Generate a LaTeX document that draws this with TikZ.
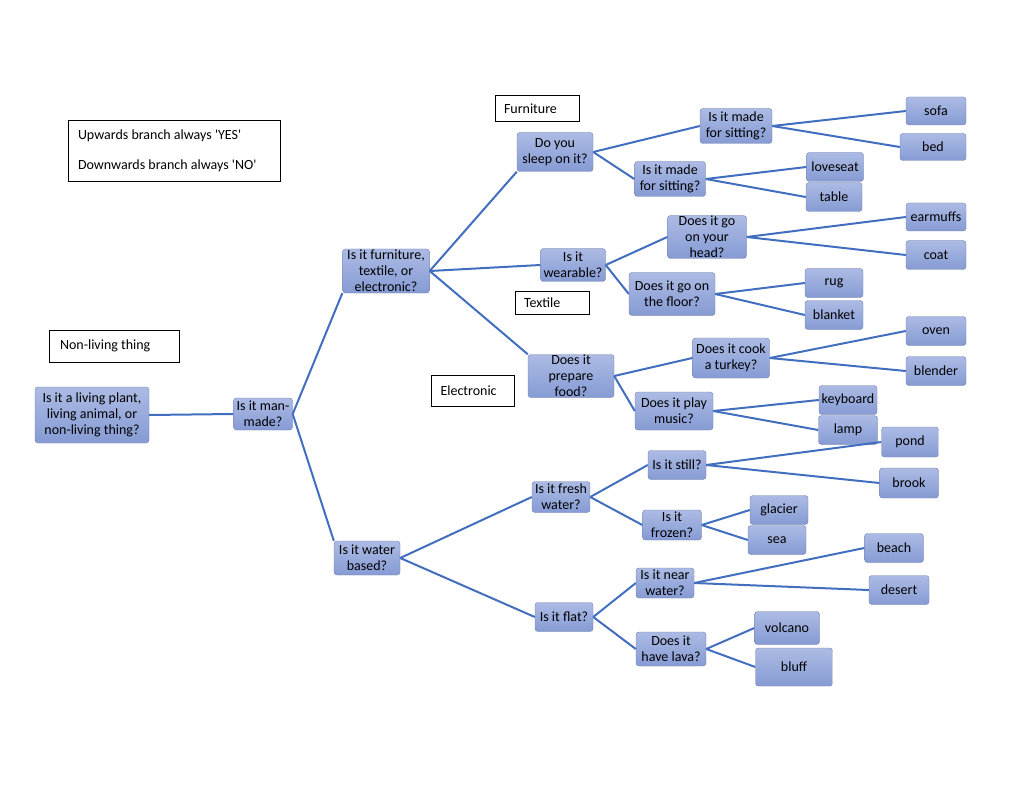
\documentclass[tikz,border=0pt]{standalone}
\usepackage{fontspec}
\setmainfont{Carlito}
\usepackage{xcolor}
\usepackage{tikz}

\definecolor{branch}{RGB}{66,110,192}
\definecolor{boxtop}{RGB}{172,187,228}
\definecolor{boxbot}{RGB}{134,155,212}
\definecolor{boxline}{RGB}{112,126,168}

\tikzset{
    q/.style={draw=boxline, rounded corners=3pt, top color=boxtop, bottom color=boxbot,
        align=center, inner sep=0pt, font=\fontsize{14}{16}\selectfont},
    tag/.style={draw=black, line width=1pt, fill=white, inner sep=0pt, align=flush left,
        font=\fontsize{14}{16}\selectfont},
    link/.style={branch, line width=2pt}
}

\begin{document}
\begin{tikzpicture}[x=1pt, y=-1pt]
        \useasboundingbox (0,0) rectangle (1024,791);

        % labels
        \node[tag, minimum width=212, minimum height=61, text width=192]
            (legend) at (174,151) {Upwards branch always \textquotesingle YES\textquotesingle\\[14pt]Downwards branch always \textquotesingle NO\textquotesingle};
        \node[tag, minimum width=130, minimum height=32, text width=108]
            (nonliving) at (114,346) {Non-living thing};
        \node[tag, minimum width=84, minimum height=26, text width=66]
            (furniture) at (537,109) {Furniture};
        \node[tag, minimum width=74, minimum height=23, text width=56]
            (textile) at (552,303) {Textile};
        \node[tag, minimum width=83, minimum height=31, text width=65]
            (electronic) at (473,391) {Electronic};

        % questions
        \node[q, minimum width=114, minimum height=56] (root) at (92,415)
            {Is it a living plant,\\living animal, or\\non-living thing?};
        \node[q, minimum width=59, minimum height=32] (manmade) at (263,414) {Is it man-\\made?};
        \node[q, minimum width=87, minimum height=44] (kind) at (386,271)
            {Is it furniture,\\textile, or\\electronic?};
        \node[q, minimum width=66, minimum height=34] (water) at (367,558) {Is it water\\based?};

        \node[q, minimum width=76, minimum height=39] (sleep) at (555,152) {Do you\\sleep on it?};
        \node[q, minimum width=65, minimum height=33] (wear) at (573,265) {Is it\\wearable?};
        \node[q, minimum width=86, minimum height=43] (food) at (571,376) {Does it\\prepare\\food?};

        \node[q, minimum width=72, minimum height=35] (sitA) at (736,126) {Is it made\\for sitting?};
        \node[q, minimum width=71, minimum height=35] (sitB) at (670,179) {Is it made\\for sitting?};
        \node[q, minimum width=79, minimum height=43] (head) at (707,237) {Does it go\\on your\\head?};
        \node[q, minimum width=86, minimum height=43] (floor) at (672,294) {Does it go on\\the floor?};
        \node[q, minimum width=77, minimum height=40] (turkey) at (731,358) {Does it cook\\a turkey?};
        \node[q, minimum width=78, minimum height=38] (music) at (674,411) {Does it play\\music?};

        \node[q, minimum width=58, minimum height=31] (fresh) at (561,497) {Is it fresh\\water?};
        \node[q, minimum width=58, minimum height=29] (flat) at (564,617) {Is it flat?};
        \node[q, minimum width=58, minimum height=29] (still) at (677,465) {Is it still?};
        \node[q, minimum width=59, minimum height=30] (frozen) at (672,525) {Is it\\frozen?};
        \node[q, minimum width=58, minimum height=30] (near) at (665,583) {Is it near\\water?};
        \node[q, minimum width=70, minimum height=34] (lava) at (671,649) {Does it\\have lava?};

        % answers
        \node[q, minimum width=60, minimum height=28] (sofa) at (936,111) {sofa};
        \node[q, minimum width=66, minimum height=27] (bed) at (933,147) {bed};
        \node[q, minimum width=57, minimum height=29] (loveseat) at (835,167) {loveseat};
        \node[q, minimum width=56, minimum height=29] (table) at (834,197) {table};
        \node[q, minimum width=60, minimum height=28] (earmuffs) at (936,217) {earmuffs};
        \node[q, minimum width=60, minimum height=29] (coat) at (936,255) {coat};
        \node[q, minimum width=58, minimum height=29] (rug) at (834,283) {rug};
        \node[q, minimum width=58, minimum height=29] (blanket) at (834,315) {blanket};
        \node[q, minimum width=60, minimum height=29] (oven) at (936,331) {oven};
        \node[q, minimum width=60, minimum height=29] (blender) at (936,371) {blender};
        \node[q, minimum width=58, minimum height=29] (keyboard) at (848,400) {keyboard};
        \node[q, minimum width=59, minimum height=29] (lamp) at (848,430) {lamp};
        \node[q, minimum width=57, minimum height=30] (pond) at (910,442) {pond};
        \node[q, minimum width=59, minimum height=30] (brook) at (909,483) {brook};
        \node[q, minimum width=58, minimum height=29] (glacier) at (779,510) {glacier};
        \node[q, minimum width=58, minimum height=29] (sea) at (777,540) {sea};
        \node[q, minimum width=59, minimum height=29] (beach) at (894,548) {beach};
        \node[q, minimum width=60, minimum height=29] (desert) at (899,590) {desert};
        \node[q, minimum width=65, minimum height=33] (volcano) at (787,628) {volcano};
        \node[q, minimum width=77, minimum height=38] (bluff) at (794,667) {bluff};

        % branches
        \draw[link] (root.east) -- (manmade.west);
        \draw[link] (manmade.east) -- (kind.south west);
        \draw[link] (manmade.east) -- (water.north west);
        \draw[link] (kind.east) -- (sleep.south west);
        \draw[link] (kind.east) -- (wear.west);
        \draw[link] (kind.east) -- (food.north west);
        \draw[link] (water.east) -- (fresh.west);
        \draw[link] (water.east) -- (flat.west);

        \draw[link] (sleep.east) -- (sitA.west);
        \draw[link] (sleep.east) -- (sitB.west);
        \draw[link] (wear.east) -- (head.west);
        \draw[link] (wear.east) -- (floor.west);
        \draw[link] (food.east) -- (turkey.west);
        \draw[link] (food.east) -- (music.west);
        \draw[link] (fresh.east) -- (still.west);
        \draw[link] (fresh.east) -- (frozen.west);
        \draw[link] (flat.east) -- (near.west);
        \draw[link] (flat.east) -- (lava.west);

        \draw[link] (sitA.east) -- (sofa.west);
        \draw[link] (sitA.east) -- (bed.west);
        \draw[link] (sitB.east) -- (loveseat.west);
        \draw[link] (sitB.east) -- (table.west);
        \draw[link] (head.east) -- (earmuffs.west);
        \draw[link] (head.east) -- (coat.west);
        \draw[link] (floor.east) -- (rug.west);
        \draw[link] (floor.east) -- (blanket.west);
        \draw[link] (turkey.east) -- (oven.west);
        \draw[link] (turkey.east) -- (blender.west);
        \draw[link] (music.east) -- (keyboard.west);
        \draw[link] (music.east) -- (lamp.west);
        \draw[link] (still.east) -- (pond.west);
        \draw[link] (still.east) -- (brook.west);
        \draw[link] (frozen.east) -- (glacier.west);
        \draw[link] (frozen.east) -- (sea.west);
        \draw[link] (near.east) -- (beach.west);
        \draw[link] (near.east) -- (desert.west);
        \draw[link] (lava.east) -- (volcano.west);
        \draw[link] (lava.east) -- (bluff.west);

    \end{tikzpicture}
\end{document}
